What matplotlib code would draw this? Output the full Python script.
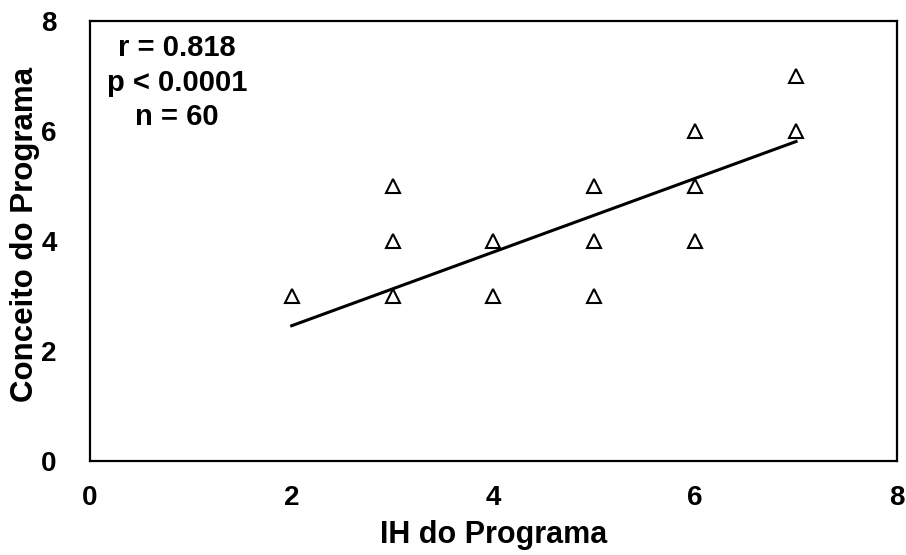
import matplotlib.pyplot as plt
import numpy as np

# data
ih = [2, 3, 3, 3, 4, 4, 5, 5, 5, 6, 6, 6, 7, 7]
conceito = [3, 5, 4, 3, 4, 3, 5, 4, 3, 6, 5, 4, 7, 6]
fit_slope = 0.67
fit_intercept = 1.12
fit_range = [2, 7]
stats_text = "r = 0.818\np < 0.0001\nn = 60"

plt.rcParams['font.family'] = ['Liberation Sans', 'DejaVu Sans']
plt.rcParams['font.weight'] = 'bold'

fig = plt.figure(figsize=(9.06, 5.55), dpi=100)
ax = fig.add_axes([0.0993, 0.1694, 0.8907, 0.7926])

ax.plot(ih, conceito, linestyle='none', marker='^', markersize=10,
        markerfacecolor='white', markeredgecolor='black', markeredgewidth=1.5)

xf = np.array(fit_range)
ax.plot(xf, fit_slope * xf + fit_intercept, color='black', linewidth=2.2)

ax.set_xlim(0, 8)
ax.set_ylim(0, 8)
ax.set_xticks([0, 2, 4, 6, 8])
ax.set_yticks([0, 2, 4, 6, 8])
ax.tick_params(length=0, labelsize=20)
ax.tick_params(axis='x', pad=17)
ax.tick_params(axis='y', pad=24)
for s in ax.spines.values():
    s.set_linewidth(1.6)

ax.set_xlabel('IH do Programa', fontsize=22, fontweight='bold')
ax.set_ylabel('Conceito do Programa', fontsize=22.5, fontweight='bold')
ax.xaxis.set_label_coords(0.5, -0.135)
ax.yaxis.set_label_coords(-0.062, 0.514)

ax.text(0.108, 0.97, stats_text, transform=ax.transAxes, ha='center', va='top',
        fontsize=21, fontweight='bold', linespacing=1.3)

fig.savefig('out.png', dpi=100)
